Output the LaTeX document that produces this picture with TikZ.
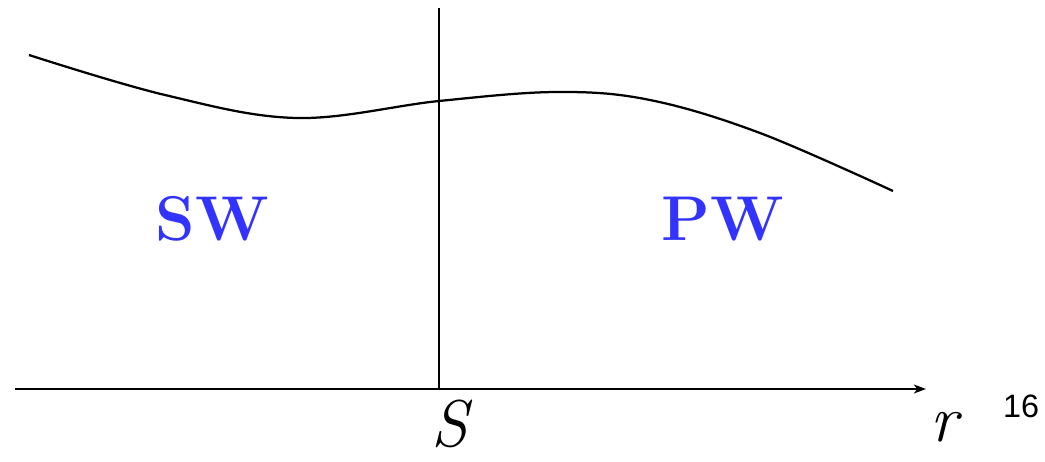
\documentclass[tikz,border=0pt]{standalone}
\usepackage{fontspec}
\newfontfamily\digitfont{Liberation Sans}
\usepackage{tikz}
\usetikzlibrary{arrows.meta}
\definecolor{wavblue}{RGB}{51,51,255}

\begin{document}
\begin{tikzpicture}[
  x=0.025cm, y=-0.025cm,
  every node/.style={inner sep=0pt},
  line/.style={line width=1.6pt, black},
  region/.style={text=wavblue, font=\rmfamily\fontsize{45}{50}\selectfont\bfseries},
  axlab/.style={font=\rmfamily\fontsize{47}{50}\selectfont\itshape},
  arrow/.style={-{Stealth[length=0.3cm, width=0.22cm, inset=0.08cm]}},
]
\useasboundingbox (0,0) rectangle (1045,461);

%% Axis and interface
\coordinate (a0) at (15,389);
\coordinate (a1) at (926,389);
\coordinate (top) at (439,8);
\coordinate (s) at (439,389);
\draw[line, arrow] (a0) -- (a1);
\draw[line] (top) -- (s);

%% Wave curve
\draw[line] plot[smooth, tension=0.6] coordinates
  {(29,55) (165,95) (297,118) (439,101) (557,92)
   (650,100) (760,133) (893,191)};

%% Region labels
\node[region] (sw) at (212,219) {SW};
\node[region] (pw) at (723,219) {PW};

%% Axis labels
\node[axlab, anchor=base] (slab) at (450,446) {S};
\node[axlab, anchor=base] (rlab) at (944,441) {r};
\node[font=\fontsize{23}{25}\selectfont\digitfont] (page) at (1021,406) {16};

\end{tikzpicture}
\end{document}
